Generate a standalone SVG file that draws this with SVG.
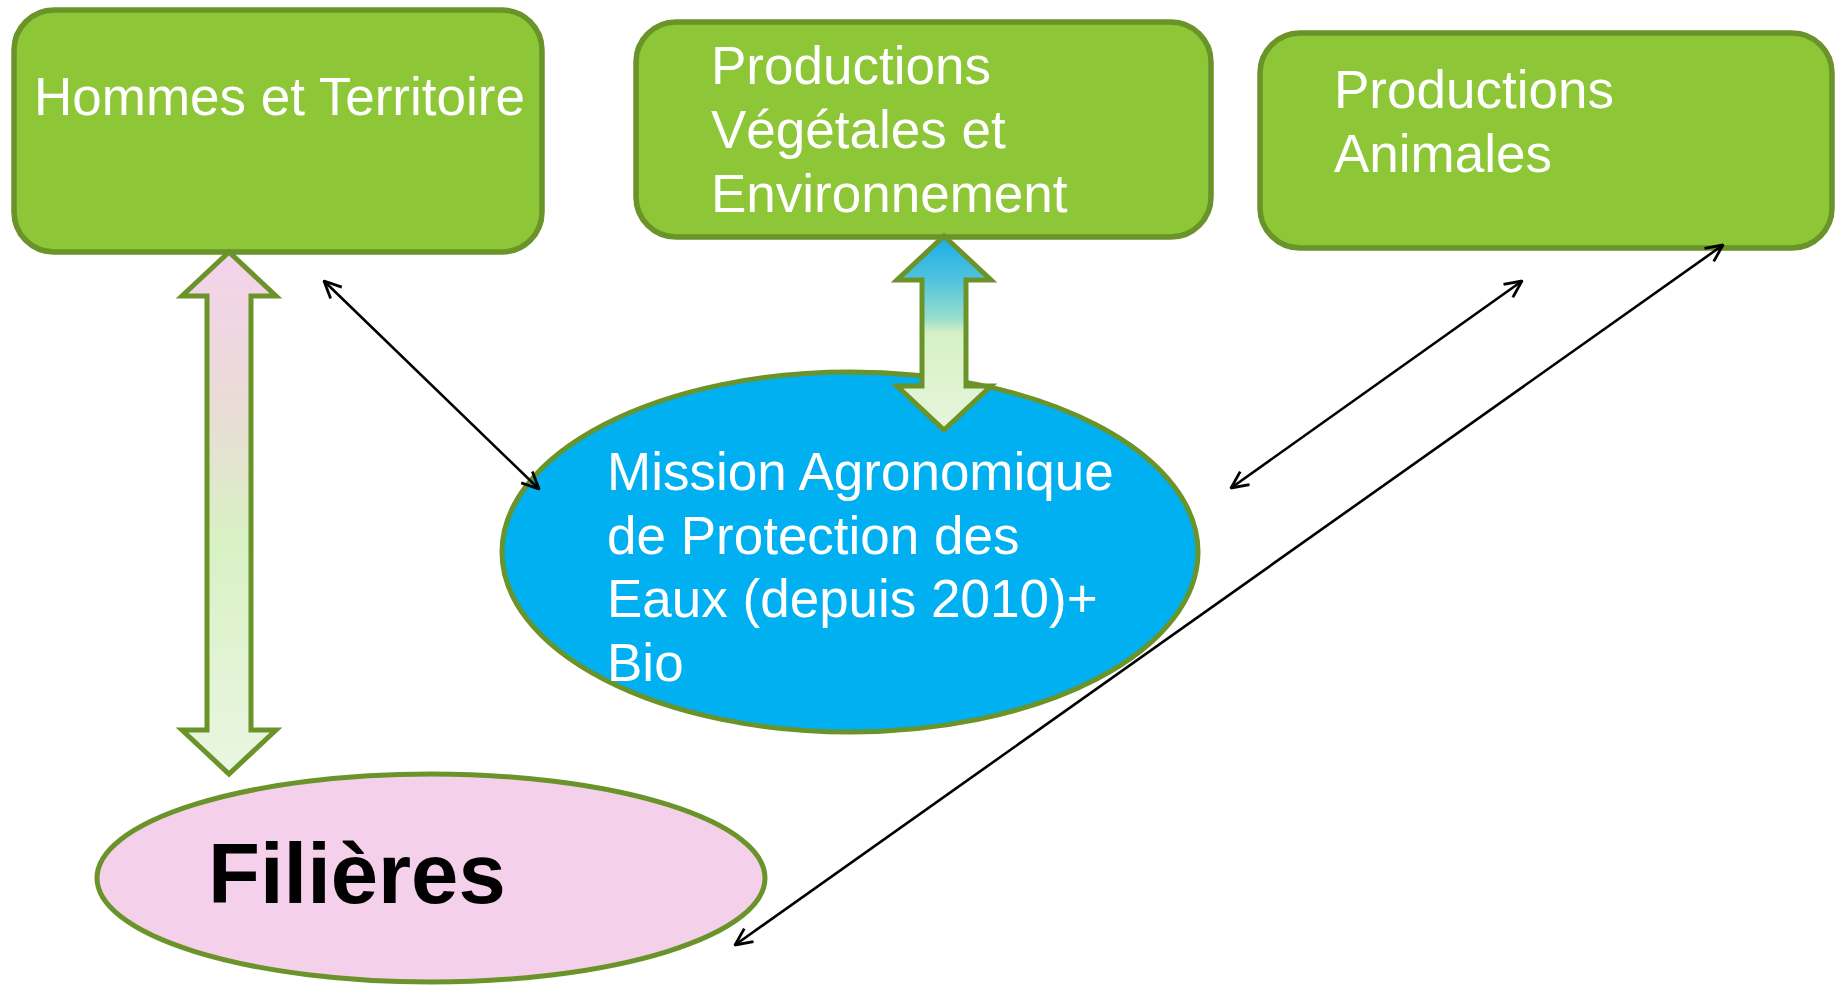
<svg xmlns="http://www.w3.org/2000/svg" width="1835" height="986" viewBox="0 0 1835 986">
<style>
.box{fill:#8dc637;stroke:#6a9329;stroke-width:5.5}
.ell{stroke:#6a9329;stroke-width:5}
.blk{stroke:#6a9329;stroke-width:5;stroke-linejoin:miter}
.t{font-family:"Liberation Sans",Arial,sans-serif;font-size:53px;fill:#ffffff}
.b{font-family:"Liberation Sans",Arial,sans-serif;font-size:85px;font-weight:bold;fill:#000000}
.con{stroke:#000;stroke-width:2.6;fill:none}
</style>
<defs>
<linearGradient id="gL" x1="0" y1="0" x2="0" y2="1">
<stop offset="0" stop-color="#f4d2ec"/>
<stop offset="0.3" stop-color="#eadcd6"/>
<stop offset="0.55" stop-color="#d8f1c4"/>
<stop offset="1" stop-color="#eaf6e2"/>
</linearGradient>
<linearGradient id="gM" x1="0" y1="0" x2="0" y2="1">
<stop offset="0" stop-color="#1aaee8"/>
<stop offset="0.22" stop-color="#4fc2de"/>
<stop offset="0.42" stop-color="#94ddcc"/>
<stop offset="0.5" stop-color="#d6f0c4"/>
<stop offset="1" stop-color="#e6f6dc"/>
</linearGradient>
<marker id="ah" viewBox="0 0 20 20" refX="19" refY="10" markerWidth="20" markerHeight="20" markerUnits="userSpaceOnUse" orient="auto-start-reverse">
<path d="M2,2 L19,10 L2,18" fill="none" stroke="#000" stroke-width="2.8"/>
</marker>
</defs>
<rect width="1835" height="986" fill="#ffffff"/>
<g id="hommes">
<rect class="box" x="14" y="10" width="528" height="242" rx="40" ry="40"/>
<text class="t" x="34" y="115">Hommes et Territoire</text>
</g>
<g id="vegetales">
<rect class="box" x="636" y="22" width="575" height="215" rx="40" ry="40"/>
<text class="t" x="711" y="84">Productions</text>
<text class="t" x="711" y="148">Végétales et</text>
<text class="t" x="711" y="212">Environnement</text>
</g>
<g id="animales">
<rect class="box" x="1260" y="33" width="572" height="215" rx="40" ry="40"/>
<text class="t" x="1334" y="108">Productions</text>
<text class="t" x="1334" y="172">Animales</text>
</g>
<g id="mission">
<ellipse class="ell" cx="850" cy="552" rx="348" ry="180" fill="#00b0f0"/>
<text class="t" x="607" y="490">Mission Agronomique</text>
<text class="t" x="607" y="554">de Protection des</text>
<text class="t" x="607" y="617">Eaux (depuis 2010)+</text>
<text class="t" x="607" y="681">Bio</text>
</g>
<g id="filieres">
<ellipse class="ell" cx="431" cy="878" rx="334" ry="104" fill="#f5d0ea"/>
<text class="b" x="208" y="903">Filières</text>
</g>
<g id="connectors">
<polygon class="blk" fill="url(#gL)" points="229,252 276,296 251,296 251,730 276,730 229,774 182,730 207,730 207,296 182,296"/>
<polygon class="blk" fill="url(#gM)" points="944,236 991,280 966,280 966,386 991,386 944,430 897,386 922,386 922,280 897,280"/>
<line class="con" x1="324" y1="281" x2="539" y2="489" marker-start="url(#ah)" marker-end="url(#ah)"/>
<line class="con" x1="1522" y1="281" x2="1231" y2="488" marker-start="url(#ah)" marker-end="url(#ah)"/>
<line class="con" x1="1723" y1="245" x2="735" y2="945" marker-start="url(#ah)" marker-end="url(#ah)"/>
</g>
</svg>
